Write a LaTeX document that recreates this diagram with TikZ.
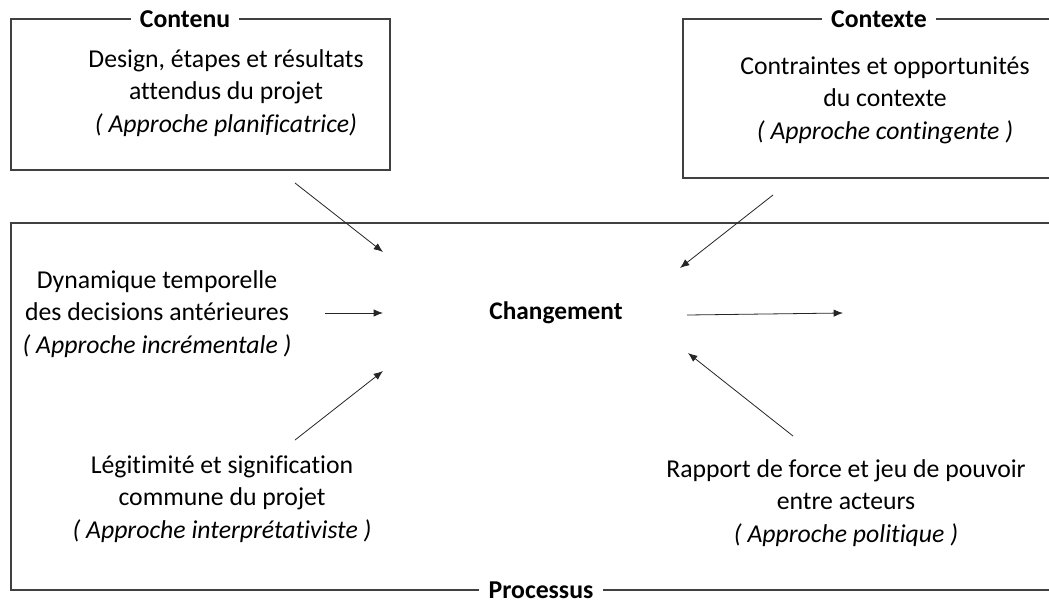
\documentclass[tikz,border=0pt]{standalone}
\usepackage{fontspec}
\setmainfont{Carlito}[Ligatures=NoCommon]
\usepackage{tikz}
\usetikzlibrary{arrows.meta,positioning}

\begin{document}
\begin{tikzpicture}[x=0.75pt, y=-0.75pt, >={Latex[length=7pt,width=5.5pt]},
    frame/.style={draw=black!75, line width=0.8pt},
    title/.style={fill=white, inner xsep=7pt, inner ysep=0pt, font=\fontsize{19.3}{22}\selectfont\bfseries},
    bloc/.style={align=center, font=\fontsize{19.3}{24.4}\selectfont},
    flow/.style={->, draw=black!85, line width=0.6pt}]
    \clip (0,0) rectangle (1049,601);
    \fill[white] (0,0) rectangle (1049,601);

    % the three frames
    \draw[frame] (11,19) rectangle (390,170);
    \draw[frame] (683,19) rectangle (1100,178);
    \draw[frame] (11,223) rectangle (1100,590);
    \node (contenu) [title] at (185,19) {Contenu};
    \node (contexte) [title] at (879,19) {Contexte};
    \node (processus) [title] at (541,590) {Processus};

    % texts
    \node (plan) [bloc] at (226,93) {Design, étapes et résultats\\attendus du projet\\\textit{( Approche planificatrice)}};
    \node (conting) [bloc] at (885,100) {Contraintes et opportunités\\du contexte\\\textit{( Approche contingente )}};
    \node (increm) [bloc] at (157,314) {Dynamique temporelle\\des decisions antérieures\\\textit{( Approche incrémentale )}};
    \node (chgt) [bloc, font=\fontsize{19}{22}\selectfont\bfseries] at (556,313) {Changement};
    \node (interp) [bloc] at (222,499) {Légitimité et signification\\commune du projet\\\textit{( Approche interprétativiste )}};
    \node (polit) [bloc] at (846,503) {Rapport de force et jeu de pouvoir\\entre acteurs\\\textit{( Approche politique )}};

    % arrow ends
    \coordinate (planA) at (295,183);
    \coordinate (planB) at (383,252);
    \coordinate (incrA) at (325,313);
    \coordinate (incrB) at (383,313);
    \coordinate (interpA) at (295,440);
    \coordinate (interpB) at (383,371);
    \coordinate (contA) at (773,195);
    \coordinate (contB) at (680,268);
    \coordinate (outA) at (687,315);
    \coordinate (outB) at (843,313);
    \coordinate (politA) at (793,436);
    \coordinate (politB) at (688,353);

    \draw[flow] (planA) -- (planB);
    \draw[flow] (incrA) -- (incrB);
    \draw[flow] (interpA) -- (interpB);
    \draw[flow] (contA) -- (contB);
    \draw[flow] (outA) -- (outB);
    \draw[flow] (politA) -- (politB);
\end{tikzpicture}
\end{document}
